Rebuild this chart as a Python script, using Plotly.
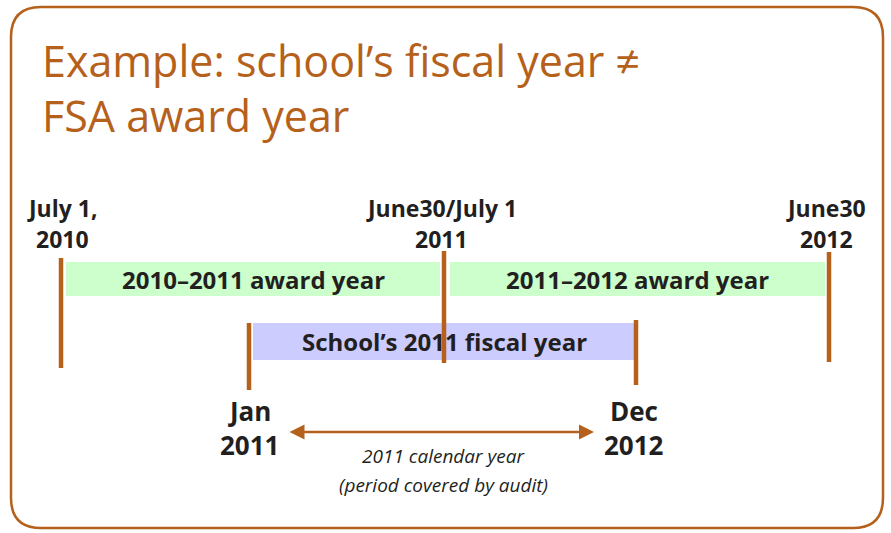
import plotly.graph_objects as go

# ---- data (diagram positions in an abstract 0-891 x / 0-533 y frame) ----
title_lines = ["Example: school\u2019s fiscal year \u2260", "FSA award year"]
title_y = [60, 115]

# date markers on the award-year timeline
marker_line1 = ["July 1,", "June30/July 1", "June30"]
marker_line2 = ["2010", "2011", "2012"]
marker_label_x = [62, 441, 826]
marker_x = [61, 444, 829]
marker_top = [258, 251, 252]
marker_bottom = [368, 363, 362]

# calendar-year markers
cal_line1 = ["Jan", "Dec"]
cal_line2 = ["2011", "2012"]
cal_label_x = [249, 634]
cal_x = [249, 636]
cal_top = [323, 320]
cal_bottom = [390, 385]

award_labels = ["2010\u20132011 award year", "2011\u20132012 award year"]
award_x0 = [66, 450]
award_x1 = [440, 825]
award_y0 = 262
award_y1 = 296

fiscal_label = "School\u2019s 2011 fiscal year"
fiscal_x0, fiscal_x1 = 253, 634
fiscal_y0, fiscal_y1 = 323, 360

arrow_x0, arrow_x1, arrow_y = 288, 594, 432
arrow_lines = ["2011 calendar year", "(period covered by audit)"]
arrow_text_y = [456, 485]

BROWN = "#B5611B"
DARK = "#231F20"
GREEN = "#CCFFCC"
PURPLE = "#CCCCFF"
FONT = "Open Sans"

fig = go.Figure()
shapes = []
annotations = []

# rounded border
r = 30
L, R, T, B = 11, 883, 7, 528
path = (f"M {L+r},{T} L {R-r},{T} Q {R},{T} {R},{T+r} L {R},{B-r} Q {R},{B} {R-r},{B} "
        f"L {L+r},{B} Q {L},{B} {L},{B-r} L {L},{T+r} Q {L},{T} {L+r},{T} Z")
shapes.append(dict(type="path", path=path, xref="x", yref="y",
                   line=dict(color=BROWN, width=2.5), fillcolor="white", layer="below"))

# bars
for lab, a, b in zip(award_labels, award_x0, award_x1):
    shapes.append(dict(type="rect", xref="x", yref="y", x0=a, x1=b, y0=award_y0, y1=award_y1,
                       fillcolor=GREEN, line=dict(width=0)))
    annotations.append(dict(x=(a + b) / 2, y=(award_y0 + award_y1) / 2, text=f"<b>{lab}</b>",
                            showarrow=False, font=dict(family=FONT, size=24, color=DARK)))
shapes.append(dict(type="rect", xref="x", yref="y", x0=fiscal_x0, x1=fiscal_x1, y0=fiscal_y0, y1=fiscal_y1,
                   fillcolor=PURPLE, line=dict(width=0)))
annotations.append(dict(x=(fiscal_x0 + fiscal_x1) / 2 + 1, y=(fiscal_y0 + fiscal_y1) / 2,
                        text=f"<b>{fiscal_label}</b>", showarrow=False,
                        font=dict(family=FONT, size=24, color=DARK)))

# vertical marker lines
for x, t, b in zip(marker_x + cal_x, marker_top + cal_top, marker_bottom + cal_bottom):
    shapes.append(dict(type="line", xref="x", yref="y", x0=x, x1=x, y0=t, y1=b,
                       line=dict(color=BROWN, width=4.5)))

# marker labels
for l1, l2, x in zip(marker_line1, marker_line2, marker_label_x):
    annotations.append(dict(x=x, y=208, text=f"<b>{l1}</b>", showarrow=False,
                            font=dict(family=FONT, size=23, color=DARK)))
    annotations.append(dict(x=x, y=239, text=f"<b>{l2}</b>", showarrow=False,
                            font=dict(family=FONT, size=23, color=DARK)))
for l1, l2, x in zip(cal_line1, cal_line2, cal_label_x):
    annotations.append(dict(x=x, y=411, text=f"<b>{l1}</b>", showarrow=False,
                            font=dict(family=FONT, size=26, color=DARK)))
    annotations.append(dict(x=x, y=445, text=f"<b>{l2}</b>", showarrow=False,
                            font=dict(family=FONT, size=26, color=DARK)))

# double-headed arrow
annotations.append(dict(x=arrow_x1, y=arrow_y, ax=arrow_x0, ay=arrow_y, xref="x", yref="y",
                        axref="x", ayref="y", text="", showarrow=True, arrowside="end+start",
                        arrowhead=2, arrowsize=1.2, arrowwidth=2.5, arrowcolor=BROWN))
for line, y in zip(arrow_lines, arrow_text_y):
    annotations.append(dict(x=(arrow_x0 + arrow_x1) / 2 + 2, y=y, text=f"<i>{line}</i>", showarrow=False,
                            font=dict(family=FONT, size=19, color=DARK)))

# title
for line, y in zip(title_lines, title_y):
    annotations.append(dict(x=40, y=y, text=line, showarrow=False, xanchor="left",
                            font=dict(family=FONT, size=43, color=BROWN)))

fig.update_layout(width=891, height=533, margin=dict(l=0, r=0, t=0, b=0),
                  paper_bgcolor="white", plot_bgcolor="white",
                  xaxis=dict(range=[0, 891], visible=False, fixedrange=True),
                  yaxis=dict(range=[533, 0], visible=False, fixedrange=True),
                  shapes=shapes, annotations=annotations, showlegend=False)
fig.write_html("out.html", config={"displayModeBar": False},
               post_script="document.body.style.margin='0';document.body.style.overflow='hidden';")
